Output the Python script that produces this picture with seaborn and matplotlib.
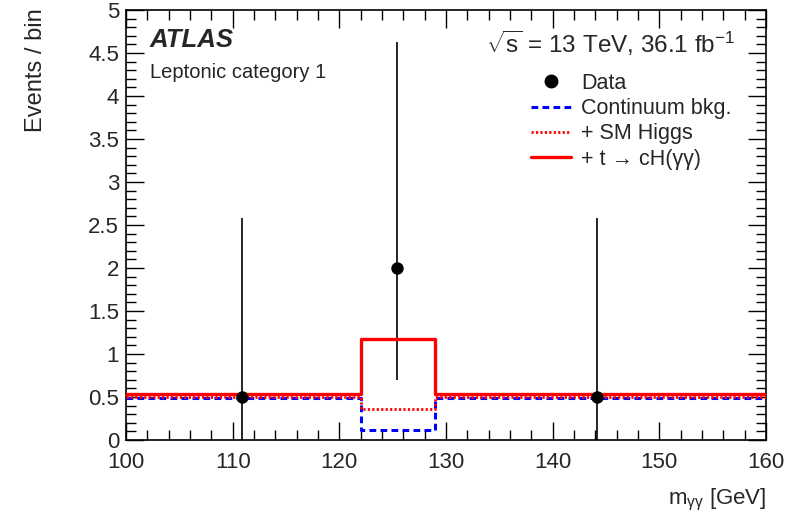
import numpy as np
import pandas as pd
import matplotlib
matplotlib.use("Agg")
import matplotlib.pyplot as plt
import seaborn as sns
from matplotlib.ticker import MultipleLocator
from matplotlib.lines import Line2D

# ---- data ----
bin_edges = [100, 122, 129, 160]
continuum_bkg = [0.49, 0.12, 0.49]
sm_higgs = [0.50, 0.36, 0.50]
signal_total = [0.54, 1.18, 0.54]

data_x = [110.9, 125.4, 144.2]
data_y = [0.5, 2.0, 0.5]
data_err_low = [0.5, 1.30, 0.5]
data_err_high = [2.08, 2.63, 2.08]

y_tick_labels = ["0", "0.5", "1", "1.5", "2", "2.5", "3", "3.5", "4", "4.5", "5"]

sns.set_theme(style="ticks")
plt.rcParams['font.family'] = ['Liberation Sans', 'DejaVu Sans']
plt.rcParams['mathtext.fontset'] = 'custom'
plt.rcParams['mathtext.rm'] = 'Liberation Sans'
plt.rcParams['mathtext.it'] = 'Liberation Sans:italic'

fig = plt.figure(figsize=(7.89, 5.22), dpi=100)
ax = fig.add_axes([126/789, 1-440/522, 640/789, 430/522])

def step_df(vals):
    return pd.DataFrame({"x": bin_edges, "y": list(vals) + [vals[-1]]})

blue_dash = (0, (2.2, 1.4))
red_dot = (0, (0.8, 0.8))

sns.lineplot(data=step_df(continuum_bkg), x="x", y="y", drawstyle="steps-post",
             color="#0000ff", lw=2.2, linestyle=blue_dash, ax=ax, zorder=3)
sns.lineplot(data=step_df(sm_higgs), x="x", y="y", drawstyle="steps-post",
             color="#ff0000", lw=2.0, linestyle=red_dot, ax=ax, zorder=4)
sns.lineplot(data=step_df(signal_total), x="x", y="y", drawstyle="steps-post",
             color="#ff0000", lw=2.4, ax=ax, zorder=5)

ax.errorbar(data_x, data_y, yerr=[data_err_low, data_err_high], fmt="none",
            ecolor="black", elinewidth=1.2, capsize=0, zorder=2)
sns.scatterplot(x=data_x, y=data_y, color="black", s=80, ax=ax, zorder=6,
                edgecolor="black", linewidth=0)

ax.set_xlim(100, 160)
ax.set_ylim(0, 5)
ax.xaxis.set_major_locator(MultipleLocator(10))
ax.xaxis.set_minor_locator(MultipleLocator(2))
ax.set_yticks(np.arange(0, 5.01, 0.5))
ax.set_yticklabels(y_tick_labels)
ax.yaxis.set_minor_locator(MultipleLocator(0.1))
ax.tick_params(which="both", direction="in", top=True, right=True, labelsize=16,
               color="black", width=1.0)
ax.tick_params(which="major", length=13)
ax.tick_params(which="minor", length=7)
ax.tick_params(axis="x", pad=9)
ax.tick_params(axis="y", pad=5)
for s in ax.spines.values():
    s.set_linewidth(1.2)
    s.set_color("black")

ax.set_xlabel("")
ax.set_ylabel("")
fig.text(766/789, 1-500/522, r"m$_{\mathrm{γγ}}$ [GeV]", ha="right", va="center", fontsize=16)
fig.text(36/789, 1-8/522, "Events / bin", rotation=90, ha="center", va="top", fontsize=17)

fig.text(150/789, 1-40/522, "ATLAS", fontsize=18.5,
         fontweight="bold", fontstyle="italic", va="center", ha="left")
fig.text(150/789, 1-72/522, "Leptonic category 1", fontsize=14.5, va="center", ha="left")
fig.text(735/789, 1-43/522, r"$\sqrt{\mathrm{s}}$ = 13 TeV, 36.1 fb$^{-1}$",
         fontsize=17.5, va="center", ha="right")

handles = [
    Line2D([], [], marker="o", color="black", linestyle="none", markersize=9),
    Line2D([], [], color="#0000ff", lw=2.2, linestyle=blue_dash),
    Line2D([], [], color="#ff0000", lw=2.0, linestyle=red_dot),
    Line2D([], [], color="#ff0000", lw=2.4),
]
labels = ["Data", "Continuum bkg.", "+ SM Higgs", "+ t → cH(γγ)"]
leg = ax.legend(handles, labels, loc="upper left", bbox_to_anchor=(520/789, 1-62/522),
                bbox_transform=fig.transFigure, frameon=False, fontsize=15.5,
                handlelength=1.86, handletextpad=0.47, labelspacing=0.2, borderpad=0)

fig.savefig("out.png", dpi=100, facecolor="white")
